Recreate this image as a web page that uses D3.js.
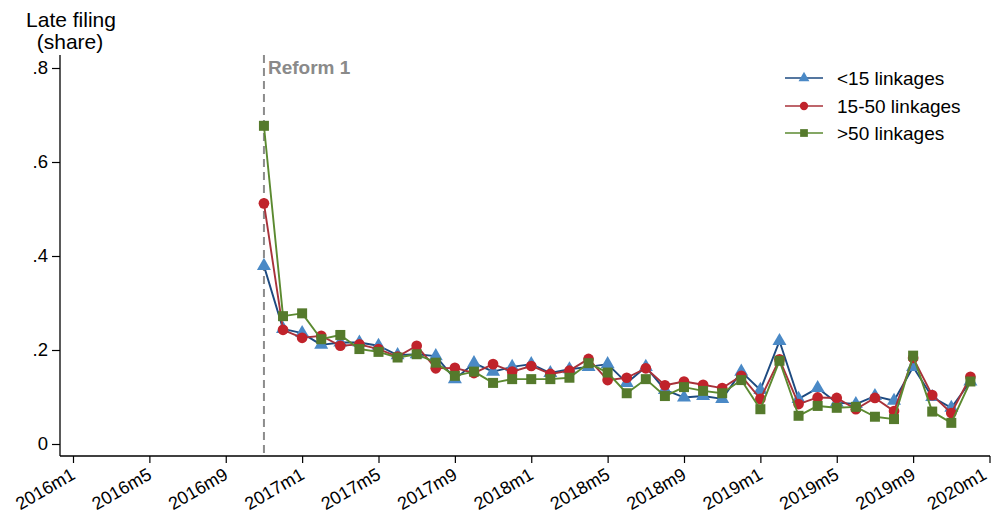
<!DOCTYPE html>
<html>
<head>
<meta charset="utf-8">
<script src="https://cdn.jsdelivr.net/npm/d3@7"></script>
<style>
  html, body { margin: 0; padding: 0; background: #fff; }
  svg { display: block; font-family: "Liberation Sans", Arial, sans-serif; }
</style>
</head>
<body>
<svg id="chart" width="992" height="515"></svg>
<script>
// Monthly observations, 2016m11 to 2019m12
const months = [
  "2016m11","2016m12",
  "2017m1","2017m2","2017m3","2017m4","2017m5","2017m6","2017m7","2017m8","2017m9","2017m10","2017m11","2017m12",
  "2018m1","2018m2","2018m3","2018m4","2018m5","2018m6","2018m7","2018m8","2018m9","2018m10","2018m11","2018m12",
  "2019m1","2019m2","2019m3","2019m4","2019m5","2019m6","2019m7","2019m8","2019m9","2019m10","2019m11","2019m12"
];

// Late filing share by number of linkages
const lowLinks = [
  0.379, 0.245,
  0.236, 0.211, 0.216, 0.216, 0.209, 0.189, 0.191, 0.187, 0.138, 0.172, 0.154, 0.164,
  0.170, 0.151, 0.159, 0.164, 0.170, 0.130, 0.164, 0.115, 0.099, 0.102, 0.096, 0.154,
  0.115, 0.219, 0.096, 0.119, 0.088, 0.085, 0.102, 0.092, 0.164, 0.100, 0.077, 0.133
];
const midLinks = [
  0.512, 0.243,
  0.226, 0.230, 0.209, 0.212, 0.202, 0.186, 0.209, 0.161, 0.162, 0.151, 0.170, 0.154,
  0.166, 0.149, 0.156, 0.181, 0.136, 0.141, 0.161, 0.125, 0.133, 0.126, 0.119, 0.145,
  0.096, 0.180, 0.085, 0.099, 0.098, 0.074, 0.098, 0.070, 0.183, 0.104, 0.066, 0.143
];
const highLinks = [
  0.677, 0.272,
  0.278, 0.223, 0.232, 0.202, 0.196, 0.184, 0.191, 0.173, 0.145, 0.154, 0.130, 0.138,
  0.138, 0.138, 0.141, 0.172, 0.152, 0.108, 0.138, 0.102, 0.121, 0.113, 0.108, 0.136,
  0.074, 0.177, 0.060, 0.081, 0.077, 0.079, 0.058, 0.053, 0.188, 0.069, 0.045, 0.133
];

const seriesNames = ["<15 linkages", "15-50 linkages", ">50 linkages"];
const xTickLabels = ["2016m1","2016m5","2016m9","2017m1","2017m5","2017m9","2018m1","2018m5","2018m9","2019m1","2019m5","2019m9","2020m1"];
const yTickValues = [0, 0.2, 0.4, 0.6, 0.8];
const yTickLabels = ["0", ".2", ".4", ".6", ".8"];
const reformMonth = "2016m11";
const reformLabel = "Reform 1";

// "YYYYmM" -> months since 2016m1
const monthIndex = s => {
  const [y, m] = s.split("m").map(Number);
  return (y - 2016) * 12 + (m - 1);
};

const svg = d3.select("#chart");
const FONT = 18;

const x = d3.scaleLinear().domain([0, 48]).range([73, 989.5]);
const y = d3.scaleLinear().domain([0, 0.8]).range([444, 68]);

const plotTop = 55, plotBottom = 456, plotLeft = 60, plotRight = 990;

// Axis titles
svg.append("text").attr("x", 71).attr("y", 27).attr("text-anchor", "middle")
  .attr("font-size", 21).attr("fill", "#000").text("Late filing");
svg.append("text").attr("x", 70).attr("y", 49).attr("text-anchor", "middle")
  .attr("font-size", 21).attr("fill", "#000").text("(share)");

// Y axis
const yAxis = d3.axisLeft(y).tickValues(yTickValues)
  .tickFormat((d, i) => yTickLabels[i]).tickSize(8).tickPadding(4).tickSizeOuter(0);
const gy = svg.append("g").attr("transform", `translate(${plotLeft},0)`).call(yAxis);
gy.select(".domain").remove();
gy.selectAll("line").attr("stroke", "#000").attr("stroke-width", 1.2);
gy.selectAll("text").attr("font-size", 18.5).attr("fill", "#000")
  .attr("font-family", "Liberation Sans, Arial, sans-serif");
svg.append("line").attr("x1", plotLeft).attr("x2", plotLeft)
  .attr("y1", plotTop).attr("y2", plotBottom).attr("stroke", "#000").attr("stroke-width", 1.3);

// X axis (rotated labels; the last one is nudged to stay inside the frame)
const xTickValues = xTickLabels.map(monthIndex);
const xAxis = d3.axisBottom(x).tickValues(xTickValues)
  .tickFormat((d, i) => xTickLabels[i]).tickSize(7).tickSizeOuter(0);
const gx = svg.append("g").attr("transform", `translate(0,${plotBottom})`).call(xAxis);
gx.select(".domain").remove();
gx.selectAll("line").attr("stroke", "#000").attr("stroke-width", 1.2);
const nTicks = xTickLabels.length;
gx.selectAll("text")
  .attr("font-size", FONT).attr("fill", "#000")
  .attr("font-family", "Liberation Sans, Arial, sans-serif")
  .attr("x", 0).attr("y", 0).attr("dy", 0)
  .attr("transform", (d, i) => `translate(${i === nTicks - 1 ? -2 : 3},22) rotate(-30)`)
  .style("text-anchor", "end");
svg.append("line").attr("x1", plotLeft).attr("x2", plotRight)
  .attr("y1", plotBottom).attr("y2", plotBottom).attr("stroke", "#000").attr("stroke-width", 1.3);

// Reform marker
const rx = x(monthIndex(reformMonth));
svg.append("line").attr("x1", rx).attr("x2", rx).attr("y1", plotTop).attr("y2", plotBottom)
  .attr("stroke", "#8c8c8c").attr("stroke-width", 2).attr("stroke-dasharray", "8,5");
svg.append("text").attr("x", rx + 4).attr("y", 74).attr("font-size", 19)
  .attr("font-weight", "bold").attr("fill", "#8a8a8a").text(reformLabel);

// Series
const styles = [
  { line: "#1d4a80", fill: "#4a89c6", shape: d3.symbolTriangle, size: 85 },
  { line: "#a8323a", fill: "#c0232b", shape: d3.symbolCircle, size: 90 },
  { line: "#5b8a30", fill: "#557a2c", shape: d3.symbolSquare, size: 100 }
];
const values = [lowLinks, midLinks, highLinks];

const lineGen = d3.line().x(d => x(d.m)).y(d => y(d.v));

values.forEach((vals, si) => {
  const st = styles[si];
  const pts = vals.map((v, i) => ({ m: monthIndex(months[i]), v }));
  svg.append("path").datum(pts).attr("d", lineGen)
    .attr("fill", "none").attr("stroke", st.line).attr("stroke-width", 1.9)
    .attr("stroke-linejoin", "round");
  svg.append("g").selectAll("path").data(pts).join("path")
    .attr("d", d3.symbol().type(st.shape).size(st.size))
    .attr("transform", d => `translate(${x(d.m)},${y(d.v)})`)
    .attr("fill", st.fill);
});

// Legend
const legendY = [78, 106, 133];
seriesNames.forEach((name, i) => {
  const st = styles[i];
  const g = svg.append("g").attr("transform", `translate(0,${legendY[i]})`);
  g.append("line").attr("x1", 785).attr("x2", 823).attr("y1", 0).attr("y2", 0)
    .attr("stroke", st.line).attr("stroke-width", 1.6);
  g.append("path").attr("d", d3.symbol().type(st.shape).size(st.size * 0.6))
    .attr("transform", "translate(804,0)").attr("fill", st.fill);
  g.append("text").attr("x", 837).attr("y", 7).attr("font-size", 19)
    .attr("fill", "#000").text(name);
});
</script>
</body>
</html>
